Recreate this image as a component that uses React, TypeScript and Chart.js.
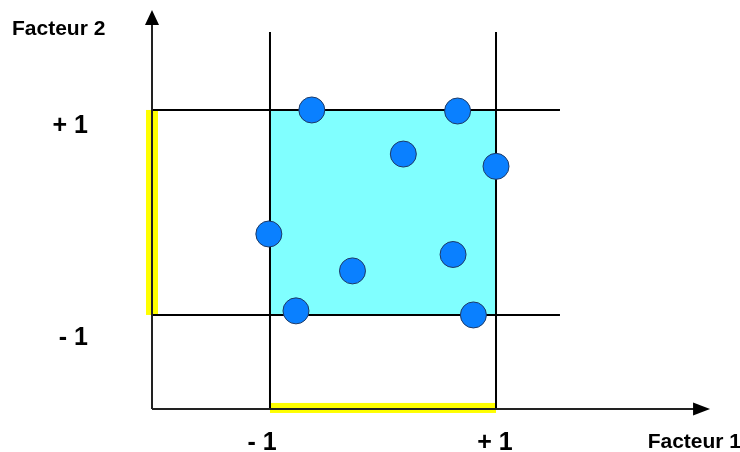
import React, { useEffect, useRef } from "react";
import { Chart, registerables } from "chart.js";

Chart.register(...registerables);

// Data (factor coordinates of the experimental points)
const factor1Values = [-0.63, 0.66, 0.18, 1.0, -1.01, -0.27, 0.62, -0.77, 0.8];
const factor2Values = [1.0, 0.99, 0.57, 0.45, -0.21, -0.57, -0.41, -0.96, -1.0];

// Tick labels and axis titles
const xTickLabels = ["- 1", "+ 1"];
const yTickLabels = ["+ 1", "- 1"];
const xTickValues = [-1, 1];
const yTickValues = [1, -1];
const xTitle = "Facteur 1";
const yTitle = "Facteur 2";

// Domain of the experimental region
const domainMin = -1;
const domainMax = 1;

// Geometry of the diagram (in factor units)
const axisOriginX = -2.044;
const axisOriginY = -1.917;
const arrowTipX = 2.894;
const arrowTipY = 1.976;
const guideEndX = 1.566;
const guideEndY = 1.761;

const FONT = "'Liberation Sans', Arial, sans-serif";

const diagramPlugin = {
  id: "diagram",
  beforeDatasetsDraw(chart: any) {
    const ctx = chart.ctx as CanvasRenderingContext2D;
    const xs = chart.scales.x;
    const ys = chart.scales.y;
    const px = (v: number) => xs.getPixelForValue(v);
    const py = (v: number) => ys.getPixelForValue(v);

    const x0 = px(axisOriginX);
    const y0 = py(axisOriginY);
    const xm = px(domainMin);
    const xM = px(domainMax);
    const ym = py(domainMin);
    const yM = py(domainMax);

    ctx.save();
    // cyan experimental domain
    ctx.fillStyle = "#80FFFF";
    ctx.fillRect(xm, yM, xM - xm, ym - yM);

    // yellow projections
    ctx.fillStyle = "#FFFF00";
    ctx.fillRect(x0 - 6, yM, 12, ym - yM);
    ctx.fillRect(xm, y0 - 6, xM - xm, 10);

    // guide lines
    ctx.strokeStyle = "#000";
    ctx.lineWidth = 2;
    ctx.beginPath();
    ctx.moveTo(xm, py(guideEndY));
    ctx.lineTo(xm, y0);
    ctx.moveTo(xM, py(guideEndY));
    ctx.lineTo(xM, y0);
    ctx.moveTo(x0, yM);
    ctx.lineTo(px(guideEndX), yM);
    ctx.moveTo(x0, ym);
    ctx.lineTo(px(guideEndX), ym);
    ctx.stroke();

    // axes
    ctx.strokeStyle = "#222";
    ctx.lineWidth = 2;
    const tx = px(arrowTipX);
    const ty = py(arrowTipY);
    ctx.beginPath();
    ctx.moveTo(x0, y0);
    ctx.lineTo(tx - 14, y0);
    ctx.moveTo(x0, y0);
    ctx.lineTo(x0, ty + 12);
    ctx.stroke();

    ctx.fillStyle = "#000";
    ctx.beginPath();
    ctx.moveTo(tx, y0);
    ctx.lineTo(tx - 17, y0 - 6.5);
    ctx.lineTo(tx - 17, y0 + 6.5);
    ctx.closePath();
    ctx.fill();
    ctx.beginPath();
    ctx.moveTo(x0, ty);
    ctx.lineTo(x0 - 7, ty + 15);
    ctx.lineTo(x0 + 7, ty + 15);
    ctx.closePath();
    ctx.fill();
    ctx.restore();
  },
  afterDraw(chart: any) {
    const ctx = chart.ctx as CanvasRenderingContext2D;
    const xs = chart.scales.x;
    const ys = chart.scales.y;
    const px = (v: number) => xs.getPixelForValue(v);
    const py = (v: number) => ys.getPixelForValue(v);
    ctx.save();
    ctx.fillStyle = "#000";
    ctx.textBaseline = "alphabetic";

    // axis titles
    ctx.font = `bold 21px ${FONT}`;
    ctx.textAlign = "left";
    ctx.fillText(yTitle, 12, 35);
    ctx.textAlign = "right";
    ctx.fillText(xTitle, 741, 448);

    // tick labels
    ctx.font = `bold 25px ${FONT}`;
    ctx.textAlign = "right";
    yTickLabels.forEach((lab, i) => {
      const v = yTickValues[i];
      const off = v > 0 ? 23 : 30;
      ctx.fillText(lab, 88, py(v) + off);
    });
    ctx.textAlign = "center";
    xTickLabels.forEach((lab, i) => {
      const v = xTickValues[i];
      const off = v > 0 ? -1 : -8;
      ctx.fillText(lab, px(v) + off, 450);
    });
    ctx.restore();
  },
};

export default function App() {
  const ref = useRef<HTMLCanvasElement | null>(null);
  useEffect(() => {
    if (!ref.current) return;
    const points = factor1Values.map((x, i) => ({ x, y: factor2Values[i] }));
    const chart = new Chart(ref.current, {
      type: "scatter",
      data: {
        datasets: [
          {
            data: points,
            backgroundColor: "#0A80FF",
            borderColor: "#1E3A66",
            borderWidth: 1,
            pointRadius: 13,
            pointHoverRadius: 13,
            clip: false as any,
          },
        ],
      },
      options: {
        animation: false,
        responsive: false,
        devicePixelRatio: 1,
        layout: { padding: 0, autoPadding: false } as any,
        plugins: {
          legend: { display: false },
          tooltip: { enabled: false },
        },
        events: [],
        scales: {
          x: { type: "linear", min: -3.389, max: 3.159, display: false },
          y: { type: "linear", min: -2.337, max: 2.073, display: false },
        },
      },
      plugins: [diagramPlugin],
    });
    return () => chart.destroy();
  }, []);
  return (
    <div style={{ position: "fixed", left: 0, top: 0, width: 740, height: 452, background: "#fff" }}>
      <canvas ref={ref} width={740} height={452} />
    </div>
  );
}
